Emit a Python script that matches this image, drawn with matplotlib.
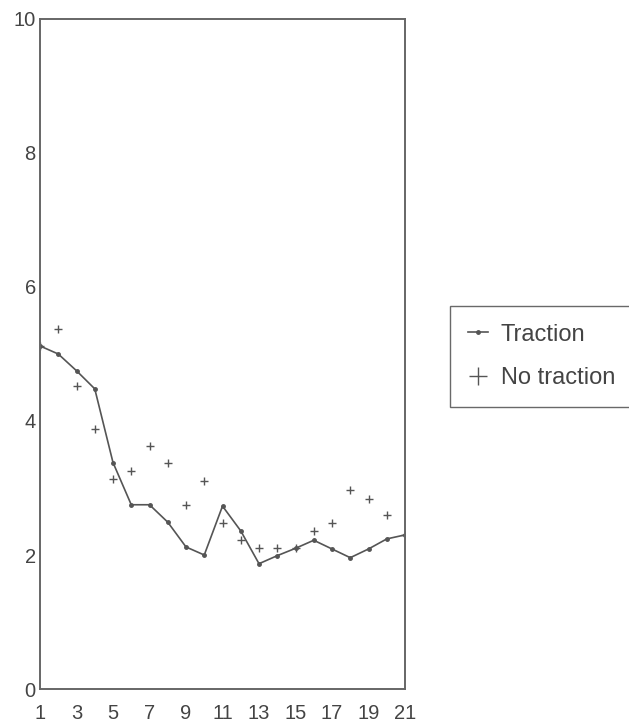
import matplotlib
matplotlib.use('Agg')
import matplotlib.pyplot as plt

plt.rcParams['font.family'] = ['Liberation Sans', 'DejaVu Sans']

#values, x = 1..21
x = list(range(1, 22))
traction = [5.12, 5.0, 4.75, 4.48, 3.38, 2.75, 2.75, 2.49, 2.12, 2.0, 2.73,
            2.36, 1.87, 1.99, 2.1, 2.22, 2.09, 1.96, 2.09, 2.24, 2.3]
no_traction = [5.12, 5.37, 4.52, 3.88, 3.13, 3.25, 3.62, 3.37, 2.75, 3.11, 2.48,
               2.22, 2.11, 2.1, 2.1, 2.36, 2.48, 2.97, 2.84, 2.6, 2.3]
xticks = list(range(1, 22, 2))
yticks = [0, 2, 4, 6, 8, 10]

grey = '#555555'
fig = plt.figure(figsize=(6.29, 7.22), dpi=100)
ax = fig.add_axes([0.0636, 0.0457, 0.5803, 0.928])

ax.plot(x, traction, color=grey, lw=1.2, marker='o', ms=2.5, label='Traction')
ax.plot(x, no_traction, color=grey, lw=0, marker='+', ms=6, mew=1.0, label='No traction')

ax.set_xlim(1, 21)
ax.set_ylim(0, 10)
ax.set_xticks(xticks)
ax.set_yticks(yticks)
ax.tick_params(axis='both', length=0, labelsize=14.5, labelcolor='#444444')
ax.tick_params(axis='x', pad=11)
ax.tick_params(axis='y', pad=3)
for s in ax.spines.values():
    s.set_color('#666666')
    s.set_linewidth(1.4)

leg = fig.legend(loc='upper left', bbox_to_anchor=(0.7154, 0.5762), fontsize=17,
                 frameon=True, fancybox=False, handlelength=0.85, handletextpad=0.55,
                 borderpad=0.75, labelspacing=0.9, borderaxespad=0)
leg.get_frame().set_edgecolor('#444444')
leg.get_frame().set_linewidth(1.0)
leg.legend_handles[1].set_markersize(13)
leg.legend_handles[1].set_markeredgewidth(1.0)
for t in leg.get_texts():
    t.set_color('#444444')

fig.savefig('out.png', dpi=100)
